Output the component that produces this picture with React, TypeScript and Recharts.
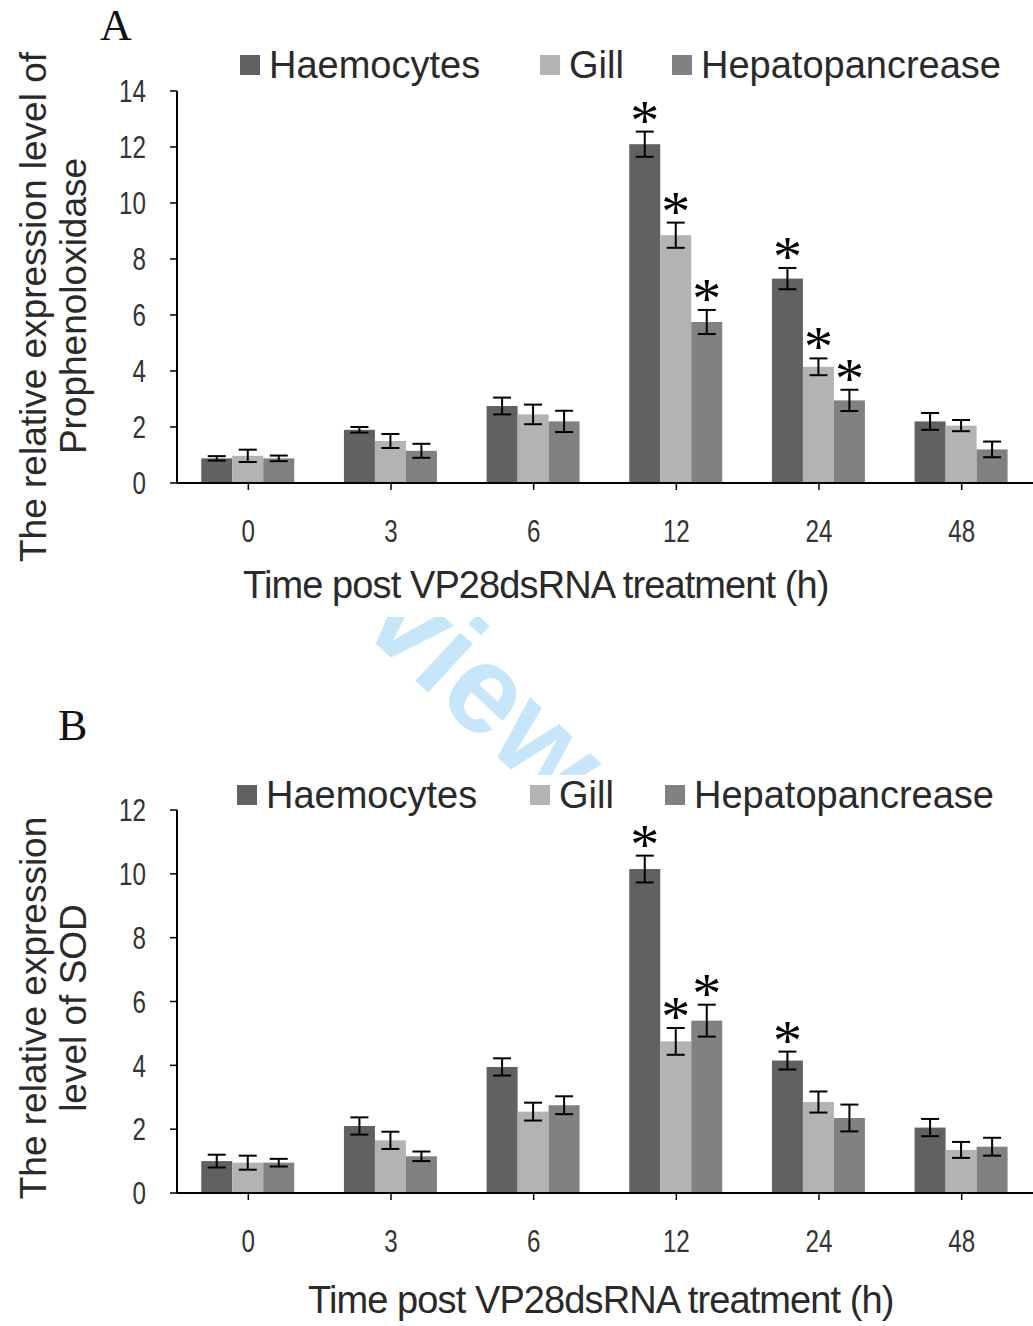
import React from "react";
import { BarChart, Bar, XAxis, YAxis, ErrorBar } from "recharts";

const hours = ["0", "3", "6", "12", "24", "48"];

// panel A - prophenoloxidase
const poHaemo = [0.88, 1.9, 2.75, 12.1, 7.3, 2.2];
const poHaemoErr = [0.08, 0.1, 0.3, 0.45, 0.38, 0.3];
const poHaemoStar = [0, 0, 0, 1, 1, 0];
const poGill = [0.97, 1.5, 2.45, 8.85, 4.15, 2.05];
const poGillErr = [0.22, 0.25, 0.35, 0.45, 0.3, 0.2];
const poGillStar = [0, 0, 0, 1, 1, 0];
const poHepa = [0.88, 1.15, 2.2, 5.75, 2.95, 1.2];
const poHepaErr = [0.1, 0.25, 0.38, 0.43, 0.38, 0.28];
const poHepaStar = [0, 0, 0, 1, 1, 0];
const poTicks = [0, 2, 4, 6, 8, 10, 12, 14];

// panel B - SOD
const sodHaemo = [1.0, 2.1, 3.95, 10.15, 4.15, 2.05];
const sodHaemoErr = [0.2, 0.27, 0.27, 0.42, 0.28, 0.27];
const sodHaemoStar = [0, 0, 0, 1, 1, 0];
const sodGill = [0.95, 1.65, 2.55, 4.75, 2.85, 1.35];
const sodGillErr = [0.22, 0.27, 0.28, 0.42, 0.33, 0.25];
const sodGillStar = [0, 0, 0, 1, 0, 0];
const sodHepa = [0.95, 1.15, 2.75, 5.4, 2.35, 1.45];
const sodHepaErr = [0.12, 0.15, 0.28, 0.5, 0.42, 0.28];
const sodHepaStar = [0, 0, 0, 1, 0, 0];
const sodTicks = [0, 2, 4, 6, 8, 10, 12];

const seriesNames = ["Haemocytes", "Gill", "Hepatopancrease"];
const seriesKeys = ["haemo", "gill", "hepa"];
const seriesColors = ["#616161", "#b3b3b3", "#818181"];

const FONT = "'Liberation Sans', Arial, sans-serif";

const buildRows = (vals: number[][], errs: number[][], stars: number[][]) =>
  hours.map((h, i) => {
    const row: any = { hour: h };
    seriesKeys.forEach((k, s) => {
      row[k] = vals[s][i];
      row[k + "Err"] = errs[s][i];
      row[k + "Star"] = stars[s][i];
    });
    return row;
  });

const poData = buildRows(
  [poHaemo, poGill, poHepa],
  [poHaemoErr, poGillErr, poHepaErr],
  [poHaemoStar, poGillStar, poHepaStar]
);
const sodData = buildRows(
  [sodHaemo, sodGill, sodHepa],
  [sodHaemoErr, sodGillErr, sodHepaErr],
  [sodHaemoStar, sodGillStar, sodHepaStar]
);

// bar rect plus the significance star above the error bar
const starBar = (key: string) => (props: any) => {
  const { x, y, width, height, fill, payload } = props;
  const v = payload[key];
  const err = payload[key + "Err"];
  const ppu = v ? height / v : 0;
  const top = y - err * ppu;
  return (
    <g>
      <rect x={x} y={y} width={width} height={height} fill={fill} />
      {payload[key + "Star"] ? (
        <text
          x={x + width / 2}
          y={top + 8}
          textAnchor="middle"
          fontSize={58}
          fontFamily="'Liberation Serif', 'Times New Roman', serif"
          fill="#000"
        >
          *
        </text>
      ) : null}
    </g>
  );
};

// condensed tick labels, like the squeezed digits of the original
const XTick = ({ x, y, payload }: any) => (
  <text transform={`translate(${x},${y}) scale(0.78,1)`} textAnchor="middle" dy="0.71em" fontSize={31} fill="#333" fontFamily={FONT}>
    {payload.value}
  </text>
);
const YTick = ({ x, y, payload }: any) => (
  <text transform={`translate(${x},${y}) scale(0.78,1)`} textAnchor="end" dy="0.36em" fontSize={31} fill="#333" fontFamily={FONT}>
    {payload.value}
  </text>
);

const Legend = ({ top, lefts }: { top: number; lefts: number[] }) => (
  <>
    {seriesNames.map((n, i) => (
      <div
        key={n}
        style={{
          position: "absolute",
          left: lefts[i],
          top: top - 22,
          height: 44,
          display: "flex",
          alignItems: "center",
          fontFamily: FONT,
          fontSize: 38,
          color: "#2a2a2a",
          whiteSpace: "nowrap",
        }}
      >
        <span style={{ width: 20, height: 20, background: seriesColors[i], marginRight: 9, display: "inline-block" }} />
        {n}
      </div>
    ))}
  </>
);

const VText = ({ cx, cy, text }: { cx: number; cy: number; text: string }) => (
  <div
    style={{
      position: "absolute",
      left: cx,
      top: cy,
      transform: "translate(-50%, -50%) rotate(-90deg)",
      fontFamily: FONT,
      fontSize: 37,
      color: "#2a2a2a",
      whiteSpace: "nowrap",
      lineHeight: 1,
    }}
  >
    {text}
  </div>
);

const Panel = ({ data, ticks, max, top, height, mTop, axisH }: any) => (
  <div style={{ position: "absolute", left: 0, top, width: 1033, height, background: "#fff" }}>
    <BarChart
      width={1033}
      height={height}
      data={data}
      margin={{ top: mTop, right: 0, left: 0, bottom: 0 }}
      barCategoryGap="17%"
      barGap={0}
    >
      <XAxis
        dataKey="hour"
        height={axisH}
        axisLine={{ stroke: "#000", strokeWidth: 2 }}
        tickLine={{ stroke: "#000", strokeWidth: 1.5 }}
        tickSize={7}
        tickMargin={30}
        tick={<XTick />}
      />
      <YAxis
        width={177}
        domain={[0, max]}
        ticks={ticks}
        interval={0}
        axisLine={{ stroke: "#000", strokeWidth: 2 }}
        tickLine={{ stroke: "#000", strokeWidth: 1.5 }}
        tickSize={7}
        tickMargin={24}
        tick={<YTick />}
      />
      {seriesKeys.map((k, i) => (
        <Bar key={k} dataKey={k} fill={seriesColors[i]} isAnimationActive={false} shape={starBar(k)}>
          <ErrorBar dataKey={k + "Err"} width={9} stroke="#000" strokeWidth={2} direction="y" />
        </Bar>
      ))}
    </BarChart>
  </div>
);

export default function App() {
  return (
    <div style={{ position: "absolute", left: 0, top: 0, width: 1033, height: 1326, background: "#fff", overflow: "hidden" }}>
      {/* watermark, only shows in the gap between the panels */}
      <div
        style={{
          position: "absolute",
          left: 191,
          top: 628,
          fontFamily: FONT,
          fontWeight: "bold",
          fontSize: 125,
          color: "#c8e6fa",
          lineHeight: 1,
          whiteSpace: "nowrap",
          transform: "rotate(43deg)",
          transformOrigin: "299px 62px",
        }}
      >
        Review
      </div>

      <Panel data={poData} ticks={poTicks} max={14} top={0} height={617} mTop={91} axisH={134} />
      <Panel data={sodData} ticks={sodTicks} max={12} top={775} height={551} mTop={35} axisH={133} />

      <div style={{ position: "absolute", left: 100, top: 2, fontFamily: "'Liberation Serif', serif", fontSize: 44, lineHeight: 1.1, color: "#111" }}>A</div>
      <div style={{ position: "absolute", left: 58, top: 702, fontFamily: "'Liberation Serif', serif", fontSize: 44, lineHeight: 1.1, color: "#111" }}>B</div>

      <Legend top={65} lefts={[240, 540, 672]} />
      <Legend top={795} lefts={[237, 530, 665]} />

      <VText cx={33} cy={307} text="The relative expression level of" />
      <VText cx={73} cy={306} text="Prophenoloxidase" />
      <VText cx={33} cy={1008} text="The relative expression" />
      <VText cx={73} cy={1008} text="level of SOD" />

      <div style={{ position: "absolute", left: 243, top: 565, fontFamily: FONT, fontSize: 38, letterSpacing: -0.9, color: "#2a2a2a", whiteSpace: "nowrap", lineHeight: 1.1 }}>
        Time post VP28dsRNA treatment (h)
      </div>
      <div style={{ position: "absolute", left: 308, top: 1280, fontFamily: FONT, fontSize: 38, letterSpacing: -0.9, color: "#2a2a2a", whiteSpace: "nowrap", lineHeight: 1.1 }}>
        Time post VP28dsRNA treatment (h)
      </div>
    </div>
  );
}
